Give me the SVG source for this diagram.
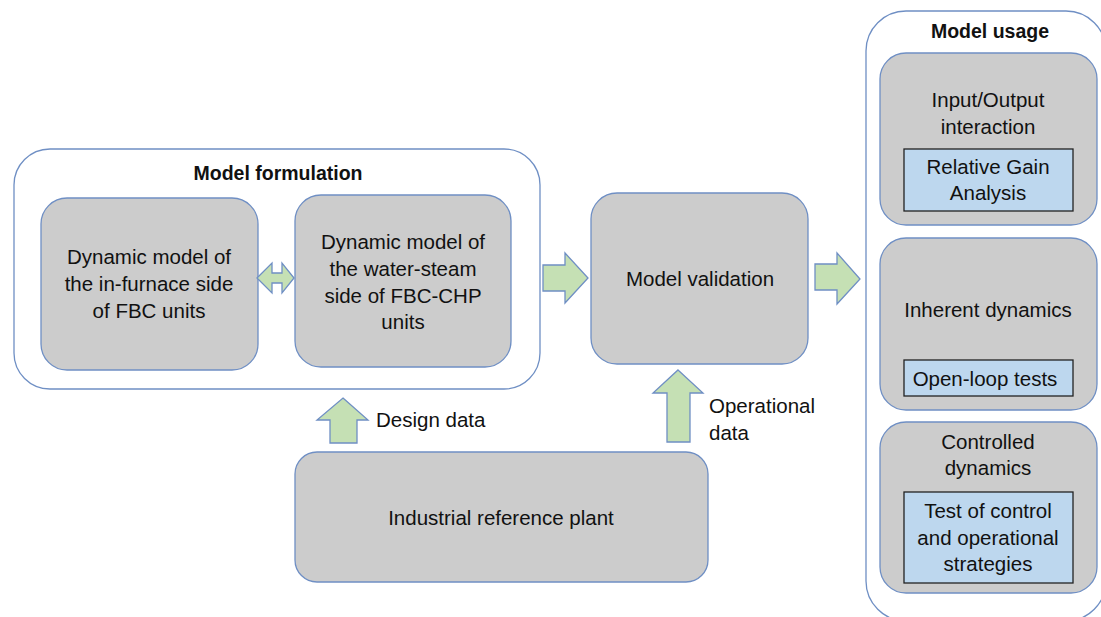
<svg xmlns="http://www.w3.org/2000/svg" width="1101" height="617" viewBox="0 0 1101 617">
<style>
.cont{fill:#ffffff;stroke:#6f8fc4;stroke-width:1.3}
.box{fill:#cccccc;stroke:#6f8fc4;stroke-width:1.3}
.sub{fill:#bdd7ee;stroke:#222222;stroke-width:1.3}
.arr{fill:#c5e0b4;stroke:#6f8fc4;stroke-width:1.3;stroke-linejoin:miter}
text{font-family:"Liberation Sans",Arial,sans-serif;font-size:20.5px;fill:#111111}
.c{text-anchor:middle}
.b{font-weight:bold;font-size:19.5px}
</style>
<rect width="1101" height="617" fill="#ffffff"/>
<g id="formulation">
<rect class="cont" x="14" y="149" width="526" height="240" rx="36"/>
<text class="c b" x="278" y="180">Model formulation</text>
</g>
<g id="infurnace">
<rect class="box" x="41" y="198" width="217" height="172" rx="26"/>
<text class="c" x="149" y="264">Dynamic model of</text>
<text class="c" x="149" y="291">the in-furnace side</text>
<text class="c" x="149" y="318">of FBC units</text>
</g>
<g id="watersteam">
<rect class="box" x="295" y="195" width="216" height="172" rx="26"/>
<text class="c" x="403" y="249">Dynamic model of</text>
<text class="c" x="403" y="276">the water-steam</text>
<text class="c" x="403" y="303">side of FBC-CHP</text>
<text class="c" x="403" y="329">units</text>
</g>
<g id="validation">
<rect class="box" x="591" y="193" width="217" height="171" rx="26"/>
<text class="c" x="700" y="286">Model validation</text>
</g>
<g id="plant">
<rect class="box" x="295" y="452" width="413" height="130" rx="22"/>
<text class="c" x="501" y="525">Industrial reference plant</text>
</g>
<g id="usage">
<rect class="cont" x="866" y="11" width="240" height="610" rx="40"/>
<text class="c b" x="990" y="38">Model usage</text>
</g>
<g id="io">
<rect class="box" x="880" y="53" width="217" height="172" rx="26"/>
<text class="c" x="988" y="107">Input/Output</text>
<text class="c" x="988" y="134">interaction</text>
<rect class="sub" x="904" y="149" width="169" height="62"/>
<text class="c" x="988" y="174">Relative Gain</text>
<text class="c" x="988" y="200">Analysis</text>
</g>
<g id="inherent">
<rect class="box" x="880" y="238" width="217" height="172" rx="26"/>
<text class="c" x="988" y="317">Inherent dynamics</text>
<rect class="sub" x="904" y="360" width="169" height="36"/>
<text class="c" x="985" y="386">Open-loop tests</text>
</g>
<g id="controlled">
<rect class="box" x="880" y="422" width="217" height="171" rx="26"/>
<text class="c" x="988" y="449">Controlled</text>
<text class="c" x="988" y="475">dynamics</text>
<rect class="sub" x="904" y="492" width="169" height="91"/>
<text class="c" x="988" y="518">Test of control</text>
<text class="c" x="988" y="545">and operational</text>
<text class="c" x="988" y="571">strategies</text>
</g>
<g id="connectors">
<polygon class="arr" points="257,278 272,263 272,273 282,273 282,263 294,278 282,293 282,283 272,283 272,293"/>
<polygon class="arr" points="543,265 565,265 565,253 588,278 565,303 565,291 543,291"/>
<polygon class="arr" points="815,264 837,264 837,253 860,279 837,304 837,290 815,290"/>
<polygon class="arr" points="343,398 368,420 357,420 357,443 330,443 330,420 317,420"/>
<polygon class="arr" points="678,370 703,393 690,393 690,442 667,442 667,393 653,393"/>
<text x="376" y="427">Design data</text>
<text x="709" y="413">Operational</text>
<text x="709" y="440">data</text>
</g>
</svg>
